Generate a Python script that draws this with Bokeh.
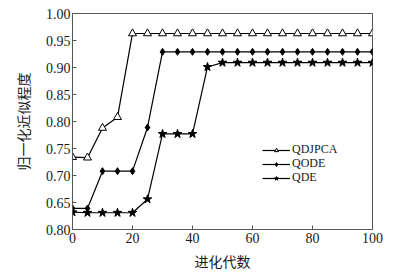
from bokeh.plotting import figure
from bokeh.models import FixedTicker, Range1d, Legend, LegendItem
from bokeh.embed import file_html
from bokeh.resources import INLINE

# Data
generations = [0, 5, 10, 15, 20, 25, 30, 35, 40, 45, 50, 55, 60, 65, 70, 75, 80, 85, 90, 95, 100]
qdjpca = [0.734, 0.733, 0.788, 0.808, 0.963, 0.963, 0.963, 0.963, 0.963, 0.963, 0.963,
          0.963, 0.963, 0.963, 0.963, 0.963, 0.963, 0.963, 0.963, 0.963, 0.963]
qode = [0.639, 0.639, 0.708, 0.708, 0.708, 0.789, 0.929, 0.929, 0.929, 0.929, 0.929,
        0.929, 0.929, 0.929, 0.929, 0.929, 0.929, 0.929, 0.929, 0.929, 0.929]
qde = [0.632, 0.631, 0.631, 0.631, 0.631, 0.656, 0.777, 0.777, 0.777, 0.901, 0.909,
       0.909, 0.909, 0.909, 0.909, 0.909, 0.909, 0.909, 0.909, 0.909, 0.909]

x_ticks = [0, 20, 40, 60, 80, 100]
y_ticks = [0.60, 0.65, 0.70, 0.75, 0.80, 0.85, 0.90, 0.95, 1.00]
y_tick_labels = ["0.80", "0.65", "0.70", "0.75", "0.80", "0.85", "0.90", "0.95", "1.00"]
series_names = ["QDJPCA", "QODE", "QDE"]
x_title = "进化代数"
y_title = "归一化近似程度"

SERIF = "Liberation Serif"
CJK = "Noto Sans CJK SC"

p = figure(width=401, height=273, output_backend="svg", toolbar_location=None,
           x_range=Range1d(0, 100), y_range=Range1d(0.60, 1.00),
           min_border_left=72, min_border_right=29, min_border_top=13, min_border_bottom=44)
p.background_fill_color = "white"
p.border_fill_color = "white"
p.outline_line_color = "#555555"
p.outline_line_width = 1
p.xgrid.visible = False
p.ygrid.visible = False

for ax in (p.xaxis[0], p.yaxis[0]):
    ax.axis_line_color = "#555555"
    ax.major_tick_line_color = "#555555"
    ax.major_tick_in = 4
    ax.major_tick_out = 0
    ax.minor_tick_line_color = None
    ax.major_label_text_font = SERIF
    ax.major_label_text_font_size = "14px"
    ax.major_label_text_color = "#1a1a1a"
    ax.axis_label_text_font = CJK
    ax.axis_label_text_font_size = "14px"
    ax.axis_label_text_font_style = "normal"
    ax.axis_label_text_color = "#1a1a1a"

p.xaxis.ticker = FixedTicker(ticks=x_ticks)
p.xaxis.major_label_overrides = {t: str(t) for t in x_ticks}
p.xaxis.major_label_standoff = 3
p.xaxis.axis_label = x_title
p.xaxis.axis_label_standoff = 5

p.yaxis.ticker = FixedTicker(ticks=y_ticks)
p.yaxis.major_label_overrides = {t: lab for t, lab in zip(y_ticks, y_tick_labels)}
p.yaxis.major_label_standoff = 2
p.yaxis.axis_label = y_title
p.yaxis.axis_label_standoff = 10

specs = [
    (qdjpca, "triangle", 8, "white"),
    (qode, "diamond", 7, "black"),
    (qde, "star", 9, "black"),
]
legend_y = [72, 58, 44]
for name, (vals, marker, size, fill), ly in zip(series_names, specs, legend_y):
    l = p.line(generations, vals, line_color="black", line_width=1.2)
    s = p.scatter(generations, vals, marker=marker, size=size, line_color="black",
                  fill_color=fill, line_width=1)
    lg = Legend(items=[LegendItem(label=name, renderers=[l, s])], location=(190, ly))
    lg.label_text_font = SERIF
    lg.label_text_font_size = "12px"
    lg.label_text_color = "#1a1a1a"
    lg.glyph_width = 28
    lg.glyph_height = 10
    lg.label_height = 10
    lg.label_standoff = 2
    lg.spacing = 0
    lg.padding = 0
    lg.margin = 0
    lg.border_line_color = None
    lg.background_fill_alpha = 0
    p.add_layout(lg)

open("out.html", "w").write(file_html(p, INLINE))
